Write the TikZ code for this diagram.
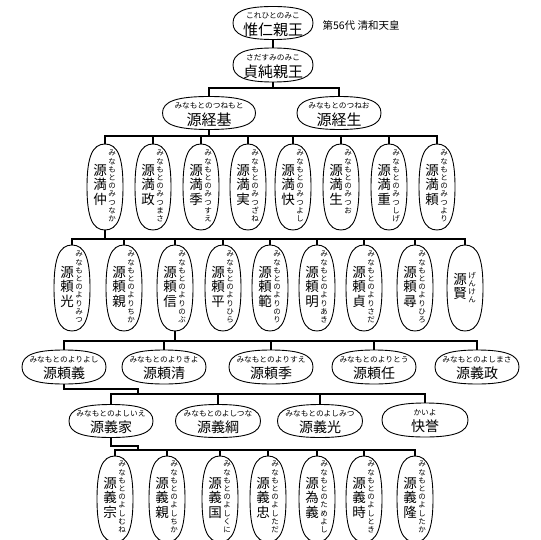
\documentclass[tikz,border=0pt]{standalone}
\usepackage{fontspec}
\setmainfont{Noto Sans CJK JP}
\usetikzlibrary{calc}
\makeatletter
\def\vt@i#1{\ifx\relax#1\else\hbox to 1em{\hss#1\hss}\expandafter\vt@i\fi}
\newcommand\vtext[1]{\vbox{\lineskiplimit=-\maxdimen\vt@i#1\relax}}
\makeatother
\def\kk{0.7}
\newcommand\ovalshape[1]{\draw[ovalline] (#1.east) .. controls ($(#1.east)!\kk!(#1.north east)$) and ($(#1.north)!\kk!(#1.north east)$) .. (#1.north) .. controls ($(#1.north)!\kk!(#1.north west)$) and ($(#1.west)!\kk!(#1.north west)$) .. (#1.west) .. controls ($(#1.west)!\kk!(#1.south west)$) and ($(#1.south)!\kk!(#1.south west)$) .. (#1.south) .. controls ($(#1.south)!\kk!(#1.south east)$) and ($(#1.east)!\kk!(#1.south east)$) .. cycle;}
% #1 font size, #2 name, #3 x, #4 y, #5 w, #6 h, #7 ruby, #8 main
\newcommand\hperson[8][14]{%
  \node[pbox, minimum width=#5, minimum height=#6] (#2) at (#3,#4) {};
  \ovalshape{#2}
  \node[rubyh] at ($(#2.center)+(0,-7.5)$) {#7};
  \node[inner sep=0, font=\fontsize{#1}{#1}\selectfont] at ($(#2.center)+(0,6.5)$) {#8};
}
% #1 name, #2 x, #3 y, #4 ruby, #5 main, #6 main top offset, #7 ruby top offset
\newcommand\vperson[7]{%
  \node[pbox, minimum width=36, minimum height=86] (#1) at (#2,#3) {};
  \ovalshape{#1}
  \node[anchor=north, inner sep=0, font=\fontsize{7.5}{8.2}\selectfont] at ($(#1.north)+(7,#7)$) {\vtext{#4}};
  \node[anchor=north, inner sep=0, font=\fontsize{13.5}{14.5}\selectfont] at ($(#1.north)+(-5,#6)$) {\vtext{#5}};
}
\begin{document}
\begin{tikzpicture}[x=1pt,y=-1pt,
  pbox/.style={rectangle, draw=none, inner sep=0, outer sep=0},
  ovalline/.style={line width=0.9pt, black},
  rubyh/.style={inner sep=0, font=\fontsize{7.7}{7.7}\selectfont},
  conn/.style={line width=2pt, black}]
\fill[white] (0,0) rectangle (540,540);
\useasboundingbox (0,0) rectangle (540,540);
\clip (0,0) rectangle (540,540);

% row 0 and 1
\hperson[15]{koreh}{273}{23}{80}{33}{これひとのみこ}{惟仁親王}
\node[inner sep=0, font=\fontsize{10.5}{10.5}\selectfont] (seiwa) at (361,25) {第56代 清和天皇};
\hperson[15]{sada}{273}{65}{80}{34}{さだすみのみこ}{貞純親王}
% row 2
\hperson[15]{tsunemoto}{209}{113}{93}{33}{みなもとのつねもと}{源経基}
\hperson[15]{tsuneo}{339}{113}{84}{33}{みなもとのつねお}{源経生}
% row 3
\vperson{mnaka}{105}{187}{みなもとのみつなか}{源満仲}{20}{6}
\vperson{mmasa}{153}{187}{みなもとのみつまさ}{源満政}{20}{6}
\vperson{msue}{201}{187}{みなもとのみつすえ}{源満季}{20}{6}
\vperson{mzane}{248}{187}{みなもとのみつざね}{源満実}{20}{6}
\vperson{myoshi}{293}{187}{みなもとのみつよし}{源満快}{20}{6}
\vperson{mo}{341}{187}{みなもとのみつお}{源満生}{20}{6}
\vperson{mshige}{389}{187}{みなもとのみつしげ}{源満重}{20}{6}
\vperson{myori}{437}{187}{みなもとのみつより}{源満頼}{20}{6}
% row 4
\vperson{rmitsu}{72}{288}{みなもとのよりみつ}{源頼光}{21}{6}
\vperson{rchika}{124}{288}{みなもとのよりちか}{源頼親}{21}{6}
\vperson{rnobu}{175}{288}{みなもとのよりのぶ}{源頼信}{21}{6}
\vperson{rhira}{223}{288}{みなもとのよりひら}{源頼平}{21}{6}
\vperson{rnori}{270}{288}{みなもとのよりのり}{源頼範}{21}{6}
\vperson{raki}{317}{288}{みなもとのよりあき}{源頼明}{21}{6}
\vperson{rsada}{364}{288}{みなもとのよりさだ}{源頼貞}{21}{6}
\vperson{rhiro}{415}{288}{みなもとのよりひろ}{源頼尋}{21}{6}
\vperson{genken}{465}{288}{げんけん}{源賢}{28}{27}
% row 5
\hperson{ryoshi}{64}{367}{84}{34}{みなもとのよりよし}{源頼義}
\hperson{rkiyo}{164}{367}{84}{34}{みなもとのよりきよ}{源頼清}
\hperson{rsue}{271}{367}{84}{34}{みなもとのよりすえ}{源頼季}
\hperson{rtou}{374}{367}{84}{34}{みなもとのよりとう}{源頼任}
\hperson{gmasa}{477}{367}{84}{34}{みなもとのよしまさ}{源義政}
% row 6
\hperson{gie}{111}{421}{84}{33}{みなもとのよしいえ}{源義家}
\hperson{gtsuna}{218}{421}{85}{33}{みなもとのよしつな}{源義綱}
\hperson{gmitsu}{320}{421}{85}{33}{みなもとのよしみつ}{源義光}
\hperson{kaiyo}{425}{420}{86}{34}{かいよ}{快誉}
% row 7
\vperson{gmune}{115}{499}{みなもとのよしむね}{源義宗}{21}{5}
\vperson{gchika}{167}{499}{みなもとのよしちか}{源義親}{21}{5}
\vperson{gkuni}{220}{499}{みなもとのよしくに}{源義国}{21}{5}
\vperson{gtada}{268}{499}{みなもとのよしただ}{源義忠}{21}{5}
\vperson{tameyoshi}{317}{499}{みなもとのためよし}{源為義}{21}{5}
\vperson{gtoki}{364}{499}{みなもとのよしとき}{源義時}{21}{5}
\vperson{gtaka}{415}{499}{みなもとのよしたか}{源義隆}{21}{5}

% connectors
\draw[conn] (koreh.south) -- (sada.north);
\coordinate (b2) at (273,88);
\draw[conn] (sada.south) -- (b2) -| (tsunemoto.north);
\draw[conn] (b2) -| (tsuneo.north);
\coordinate (b3) at (209,136);
\draw[conn] (tsunemoto.south) -- (b3);
\foreach \n in {mnaka,mmasa,msue,mzane,myoshi,mo,mshige,myori}
  \draw[conn] (b3) -| (\n.north);
\coordinate (b4) at (105,239);
\draw[conn] (mnaka.south) -- (b4);
\foreach \n in {rmitsu,rchika,rnobu,rhira,rnori,raki,rsada,rhiro,genken}
  \draw[conn] (b4) -| (\n.north);
\coordinate (b5) at (175,341);
\draw[conn] (rnobu.south) -- (b5);
\foreach \n in {ryoshi,rkiyo,rsue,rtou,gmasa}
  \draw[conn] (b5) -| (\n.north);
\coordinate (j6) at (138,394);
\draw[conn] (ryoshi.south) -- ++(0,5) -| (j6);
\foreach \n in {gie,gtsuna,gmitsu,kaiyo}
  \draw[conn] (j6) -| (\n.north);
\coordinate (j7) at (138,450);
\draw[conn] (gie.south) -- ++(0,8) -| (j7);
\foreach \n in {gmune,gchika,gkuni,gtada,tameyoshi,gtoki,gtaka}
  \draw[conn] (j7) -| (\n.north);
\end{tikzpicture}
\end{document}
